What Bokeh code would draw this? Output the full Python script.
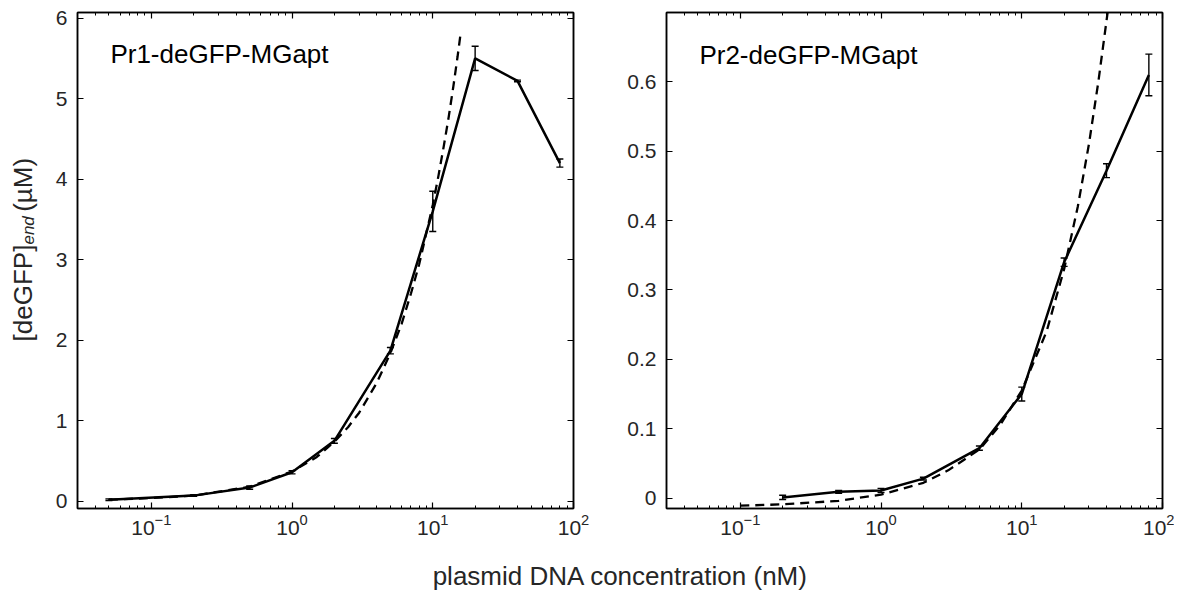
import math
from bokeh.plotting import figure
from bokeh.models import (
    ColumnDataSource,
    Whisker,
    TeeHead,
    Label,
    LogAxis,
    LinearAxis,
    FixedTicker,
    LogTickFormatter,
    Range1d,
)
from bokeh.layouts import column, row
from bokeh.embed import file_html
from bokeh.resources import INLINE

# Pr1-deGFP-MGapt: measured end point and fit
pr1_conc = [0.05, 0.2, 0.5, 1, 2, 5, 10, 20, 40, 80]
pr1_mean = [0.02, 0.07, 0.17, 0.36, 0.75, 1.87, 3.6, 5.5, 5.22, 4.2]
pr1_err = [0.01, 0.01, 0.02, 0.02, 0.03, 0.04, 0.25, 0.15, 0.01, 0.05]
pr1_fit_x = [0.05, 0.1, 0.2, 0.5, 1, 1.5, 2, 2.5, 3, 4, 5, 6, 7, 8, 10, 11, 12, 13, 14, 15, 15.8]
pr1_fit_y = [0.02, 0.04, 0.07, 0.18, 0.37, 0.55, 0.74, 0.92, 1.1, 1.47, 1.84, 2.2, 2.58, 2.94,
             3.68, 4.05, 4.42, 4.78, 5.15, 5.52, 5.82]

# Pr2-deGFP-MGapt
pr2_conc = [0.2, 0.5, 1, 2, 5, 10, 20, 40, 80]
pr2_mean = [0.001, 0.009, 0.011, 0.028, 0.072, 0.15, 0.34, 0.472, 0.61]
pr2_err = [0.003, 0.002, 0.003, 0.002, 0.003, 0.01, 0.006, 0.01, 0.03]
pr2_fit_x = [0.1, 0.2, 0.5, 1, 2, 3, 5, 7, 10, 15, 20, 25, 30, 35, 42]
pr2_fit_y = [-0.011, -0.009, -0.004, 0.005, 0.022, 0.04, 0.07, 0.105, 0.155, 0.24, 0.33,
             0.42, 0.51, 0.6, 0.72]

x_ticks = [0.1, 1, 10, 100]
x_minor = [m * 10 ** d for d in range(-2, 2) for m in range(2, 10)]
pr1_yticks = [0, 1, 2, 3, 4, 5, 6]
pr2_yticks = [0, 0.1, 0.2, 0.3, 0.4, 0.5, 0.6]

FONT = "Liberation Sans"
TXT = "#262626"
H = 545


def panel(xs, ys, errs, fx, fy, yr, yticks, title, tx, ty, width, bl, br):
    p = figure(
        width=width,
        height=H,
        x_axis_type="log",
        x_range=Range1d(0.0299, 100),
        y_range=Range1d(*yr),
        output_backend="svg",
        toolbar_location=None,
        tools="",
        min_border_left=bl,
        min_border_right=br,
        min_border_top=12,
        min_border_bottom=37,
    )
    p.grid.visible = False
    p.outline_line_color = "black"
    p.outline_line_width = 1.5

    top = LogAxis()
    right = LinearAxis()
    p.add_layout(top, "above")
    p.add_layout(right, "right")

    for ax in [p.xaxis[0], top]:
        ax.ticker = FixedTicker(ticks=x_ticks, minor_ticks=x_minor)
    p.xaxis[0].formatter = LogTickFormatter()
    for ax in [p.yaxis[0], right]:
        ax.ticker = FixedTicker(ticks=yticks)
        ax.minor_tick_line_color = None
    for ax in p.axis:
        ax.axis_line_width = 1.5
        ax.major_tick_in = 6
        ax.major_tick_out = 0
        ax.minor_tick_in = 3
        ax.minor_tick_out = 0
        ax.major_tick_line_width = 1.2
        ax.major_label_text_font = FONT
        ax.major_label_text_font_size = "21px"
        ax.major_label_text_color = TXT
    for ax in [top, right]:
        ax.major_label_text_font_size = "1px"
        ax.major_label_text_color = None
        ax.major_label_standoff = 0
    p.xaxis[0].major_label_standoff = 7
    p.yaxis[0].major_label_standoff = 10

    src = ColumnDataSource(dict(
        x=xs, y=ys,
        lo=[a - b for a, b in zip(ys, errs)],
        hi=[a + b for a, b in zip(ys, errs)],
    ))
    p.line(fx, fy, line_color="black", line_width=2.3, line_dash="9 6")
    p.line("x", "y", source=src, line_color="black", line_width=2.5)
    p.add_layout(Whisker(
        base="x", lower="lo", upper="hi", source=src,
        line_color="black", line_width=1.4,
        lower_head=TeeHead(size=7, line_width=1.4),
        upper_head=TeeHead(size=7, line_width=1.4),
    ))
    p.add_layout(Label(
        x=tx, y=ty, text=title, text_font=FONT, text_font_size="26px",
        text_color="black", text_baseline="alphabetic",
    ))
    return p


p1 = panel(pr1_conc, pr1_mean, pr1_err, pr1_fit_x, pr1_fit_y, (-0.09, 6.07), pr1_yticks,
           "Pr1-deGFP-MGapt", 0.0512, 5.556, 568, 27, 45)
p2 = panel(pr2_conc, pr2_mean, pr2_err, pr2_fit_x, pr2_fit_y, (-0.015, 0.7), pr2_yticks,
           "Pr2-deGFP-MGapt", 0.0512, 0.639, 556, 48, 12)

# y axis title with italic subscript, built from rotated pieces
ylab = figure(
    width=50, height=H, x_range=Range1d(0, 50), y_range=Range1d(0, H),
    output_backend="svg", toolbar_location=None, tools="", min_border=0,
    x_axis_location=None, y_axis_location=None,
)
ylab.outline_line_color = None
ylab.grid.visible = False
ylab.add_layout(Label(x=22, y=H - 255, text="[deGFP]", angle=math.pi / 2,
                      text_font=FONT, text_font_size="26px", text_color=TXT,
                      text_align="right", text_baseline="alphabetic"))
ylab.add_layout(Label(x=28, y=H - 255, text="end", angle=math.pi / 2,
                      text_font=FONT, text_font_size="17px", text_font_style="italic",
                      text_color=TXT, text_align="left", text_baseline="alphabetic"))
ylab.add_layout(Label(x=22, y=H - 219, text="(\u00b5M)", angle=math.pi / 2,
                      text_font=FONT, text_font_size="26px", text_color=TXT,
                      text_align="left", text_baseline="alphabetic"))

xlab = figure(
    width=1174, height=47, x_range=Range1d(0, 1174), y_range=Range1d(47, 0),
    output_backend="svg", toolbar_location=None, tools="", min_border=0,
    x_axis_location=None, y_axis_location=None,
)
xlab.outline_line_color = None
xlab.grid.visible = False
xlab.add_layout(Label(
    x=620, y=30, text="plasmid DNA concentration (nM)", text_font=FONT,
    text_font_size="26px", text_color=TXT, text_align="center", text_baseline="alphabetic",
))

layout = column(row(ylab, p1, p2), xlab)
open("out.html", "w").write(file_html(layout, INLINE))
